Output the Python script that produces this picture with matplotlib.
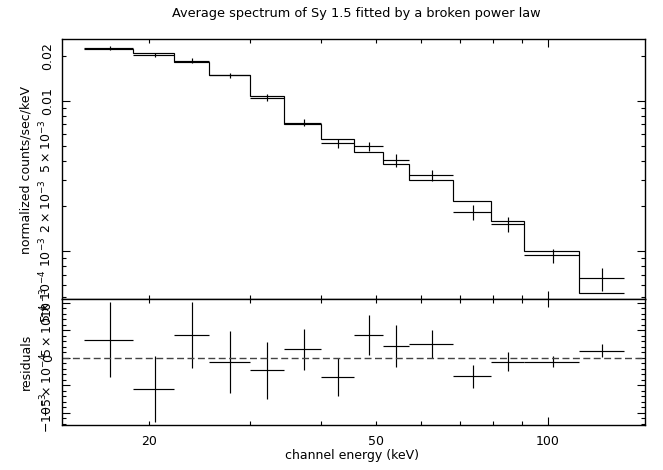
import numpy as np
import matplotlib
matplotlib.use("Agg")
import matplotlib.pyplot as plt
from matplotlib.ticker import FixedLocator, FixedFormatter, LogLocator, MultipleLocator, NullFormatter

plt.rcParams['font.family'] = ['DejaVu Sans']
plt.rcParams['mathtext.fontset'] = 'dejavusans'

# channel bin edges (keV)
edges = [15.36, 18.75, 22.16, 25.5, 30.0, 34.5, 40.1, 45.8, 51.4, 57.0,
         68.3, 79.6, 90.8, 113.2, 135.7]
# observed normalized counts/sec/keV and 1-sigma errors
rate = [0.02243, 0.02023, 0.01862, 0.01488, 0.01055, 0.00719, 0.005225,
        0.00500, 0.00405, 0.00322, 0.00182, 0.00152, 0.00094, 0.000661]
rate_err = [6.8e-4, 6.0e-4, 6.0e-4, 5.6e-4, 5.2e-4, 3.75e-4, 3.5e-4,
            3.65e-4, 3.8e-4, 2.6e-4, 2.1e-4, 1.8e-4, 1.03e-4, 1.16e-4]
# broken power law model folded through response
model = [0.0221, 0.0208, 0.0182, 0.01496, 0.01078, 0.00704, 0.00558,
         0.00459, 0.00384, 0.00297, 0.00216, 0.00159, 0.00101, 0.000531]

top_ticks = [0.02, 0.01, 5e-3, 2e-3, 1e-3, 5e-4]
top_labels = ["0.02", "0.01", r"$5\times10^{-3}$", r"$2\times10^{-3}$",
              r"$10^{-3}$", r"$5\times10^{-4}$"]
res_ticks = [-1e-3, -5e-4, 0, 5e-4, 1e-3]
res_labels = [r"$-10^{-3}$", r"$-5\times10^{-4}$", "0", r"$5\times10^{-4}$", r"$10^{-3}$"]
x_ticks = [20, 50, 100]
x_labels = ["20", "50", "100"]

edges = np.array(edges)
rate = np.array(rate)
model = np.array(model)
centers = (edges[:-1] + edges[1:]) / 2
xerr = (edges[1:] - edges[:-1]) / 2
resid = rate - model

fig = plt.figure(figsize=(6.63, 4.70), dpi=100)
L, R = 62 / 663, 645 / 663
ax1 = fig.add_axes([L, 1 - 298.5 / 470, R - L, (298.5 - 39) / 470])
ax2 = fig.add_axes([L, 1 - 425 / 470, R - L, (425 - 298.5) / 470], sharex=ax1)

lw = 0.85
ax1.stairs(model, edges, color="k", lw=lw, baseline=None)
ax1.errorbar(centers, rate, xerr=xerr, yerr=rate_err, fmt="none", ecolor="k", elinewidth=lw)
ax1.set_xscale("log")
ax1.set_yscale("log")
ax1.set_xlim(14.08, 147.9)
ax1.set_ylim(4.86e-4, 0.0259)

ax2.errorbar(centers, resid, xerr=xerr, yerr=rate_err, fmt="none", ecolor="k", elinewidth=lw)
ax2.axhline(0, color="#444444", lw=1.0, ls=(0, (5, 2.5)))
ax2.set_ylim(-1.227e-3, 1.08e-3)

for ax in (ax1, ax2):
    for s in ax.spines.values():
        s.set_linewidth(1.0)
    ax.tick_params(which="both", direction="in", top=True, right=True, width=0.8,
                   labelsize=9, colors="k")
    ax.tick_params(which="major", length=6)
    ax.tick_params(which="minor", length=3)
    ax.tick_params(axis="y", labelrotation=90, pad=5)
    for t in ax.get_yticklabels():
        t.set_va("center")

ax1.xaxis.set_major_locator(LogLocator(base=10, numticks=5))
ax1.xaxis.set_minor_locator(LogLocator(base=10, subs=np.arange(2, 10), numticks=20))
ax1.xaxis.set_major_formatter(NullFormatter())
ax1.xaxis.set_minor_formatter(NullFormatter())
ax1.tick_params(axis="x", labelbottom=False)

ax1.yaxis.set_major_locator(LogLocator(base=10, numticks=10))
ax1.yaxis.set_minor_locator(LogLocator(base=10, subs=np.arange(2, 10), numticks=20))
ax1.yaxis.set_major_formatter(NullFormatter())
ax1.yaxis.set_minor_formatter(NullFormatter())
for v, lab in zip(top_ticks, top_labels):
    ax1.text(-0.013, v, lab, transform=ax1.get_yaxis_transform(), rotation=90,
             ha="right", va="center", fontsize=9, clip_on=False)

ax2.yaxis.set_major_locator(FixedLocator(res_ticks))
ax2.yaxis.set_minor_locator(MultipleLocator(1e-4))
ax2.yaxis.set_major_formatter(FixedFormatter(res_labels))
for t in ax2.get_yticklabels():
    t.set_va("center")

for v, lab in zip(x_ticks, x_labels):
    ax2.text(v, -0.08, lab, transform=ax2.get_xaxis_transform(), ha="center",
             va="top", fontsize=9)
ax2.tick_params(axis="x", labelbottom=False)

fig.text(356 / 663, 1 - 14 / 470, "Average spectrum of Sy 1.5 fitted by a broken power law",
         ha="center", va="center", fontsize=9.3)
fig.text(352 / 663, 1 - 455 / 470, "channel energy (keV)", ha="center", va="center", fontsize=9)
fig.text(26 / 663, 1 - 170 / 470, "normalized counts/sec/keV", rotation=90,
         ha="center", va="center", fontsize=9)
fig.text(26 / 663, 1 - 362 / 470, "residuals", rotation=90, ha="center", va="center", fontsize=9)

fig.savefig("out.png", dpi=100)
